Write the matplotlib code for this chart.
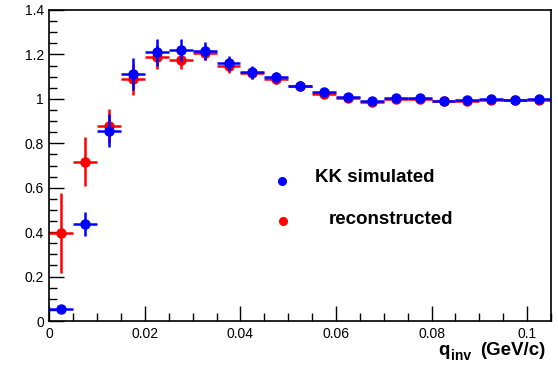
import matplotlib
matplotlib.use('Agg')
import matplotlib.pyplot as plt
from matplotlib.ticker import MultipleLocator

plt.rcParams['font.family'] = ['Liberation Sans', 'DejaVu Sans']

# bin centres (GeV/c), bin half width
q = [0.0025 + 0.005 * i for i in range(21)]
half_w = 0.0025

sim = [0.053, 0.438, 0.857, 1.113, 1.209, 1.221, 1.217, 1.160, 1.120, 1.097,
       1.060, 1.030, 1.007, 0.991, 1.003, 1.003, 0.989, 0.994, 1.000, 0.995, 0.998]
sim_err = [0.010, 0.054, 0.075, 0.071, 0.060, 0.050, 0.040, 0.035, 0.030, 0.025,
           0.022, 0.020, 0.018, 0.016, 0.015, 0.014, 0.013, 0.012, 0.012, 0.011, 0.011]

rec = [0.395, 0.717, 0.878, 1.088, 1.187, 1.175, 1.208, 1.148, 1.115, 1.090,
       1.058, 1.020, 1.002, 0.987, 0.998, 0.998, 0.990, 0.992, 0.995, 0.993, 0.995]
rec_err = [0.180, 0.110, 0.077, 0.070, 0.054, 0.040, 0.035, 0.030, 0.025, 0.022,
           0.020, 0.018, 0.016, 0.015, 0.014, 0.013, 0.012, 0.012, 0.011, 0.011, 0.010]

fig = plt.figure(figsize=(5.58, 3.70), dpi=100)
ax = fig.add_axes([0.0884, 0.1324, 0.8991, 0.8406])

ax.errorbar(q, rec, xerr=half_w, yerr=rec_err, fmt='o', color='#ff0000',
            ms=6.5, elinewidth=1.8, capsize=0, zorder=2)
ax.errorbar(q, sim, xerr=half_w, yerr=sim_err, fmt='o', color='#0000ff',
            ms=6.5, elinewidth=1.8, capsize=0, zorder=3)

ax.set_xlim(0, 0.105)
ax.set_ylim(0, 1.4)
ax.xaxis.set_minor_locator(MultipleLocator(0.005))
ax.yaxis.set_minor_locator(MultipleLocator(0.05))
ax.set_xticks([0, 0.02, 0.04, 0.06, 0.08, 0.1])
ax.set_xticklabels(['0', '0.02', '0.04', '0.06', '0.08', '0.1'])
ax.set_yticks([0, 0.2, 0.4, 0.6, 0.8, 1.0, 1.2, 1.4])
ax.set_yticklabels(['0', '0.2', '0.4', '0.6', '0.8', '1', '1.2', '1.4'])
ax.tick_params(which='both', direction='in', top=False, right=False,
               labelsize=10, width=1, colors='black')
ax.tick_params(which='major', length=11, pad=4)
ax.tick_params(which='minor', length=6)
for s in ax.spines.values():
    s.set_linewidth(1.2)

# legend entries
ax.plot([0.0486], [0.63], 'o', color='#0000ff', ms=5.5)
ax.text(0.0557, 0.648, 'KK simulated', fontsize=13.5, fontweight='bold', va='center')
ax.plot([0.0490], [0.45], 'o', color='#ff0000', ms=5.5)
ax.text(0.0584, 0.459, 'reconstructed', fontsize=13.5, fontweight='bold', va='center')

# x title: q_inv (GeV/c), pieces placed by hand
fig.text(0.977, 0.040, '(GeV/c)', fontsize=13.5, fontweight='bold',
         ha='right', va='baseline')
fig.text(0.808, 0.027, 'inv', fontsize=10, fontweight='bold',
         ha='left', va='baseline')
fig.text(0.786, 0.040, 'q', fontsize=13.5, fontweight='bold',
         ha='left', va='baseline')

fig.savefig('out.png', dpi=100)
